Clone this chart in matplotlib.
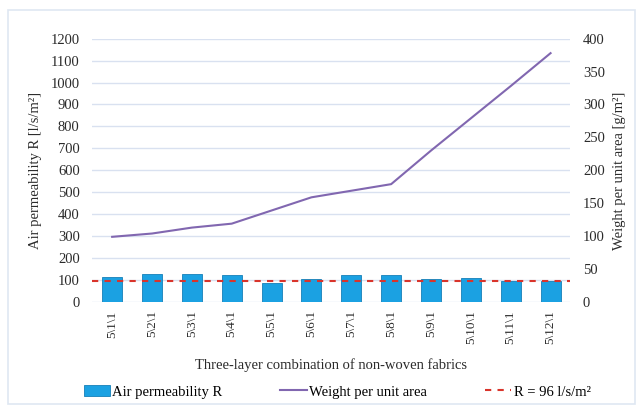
import numpy as np
import matplotlib
matplotlib.use('Agg')
import matplotlib.pyplot as plt
from matplotlib.patches import Rectangle

plt.rcParams['font.family'] = ['Liberation Serif', 'DejaVu Serif']

labels = ['5\\1\\1', '5\\2\\1', '5\\3\\1', '5\\4\\1', '5\\5\\1', '5\\6\\1',
          '5\\7\\1', '5\\8\\1', '5\\9\\1', '5\\10\\1', '5\\11\\1', '5\\12\\1']
air_perm = [114, 127, 127, 124, 88, 105, 124, 124, 105, 109, 97, 97]
weight = [99, 104, 113, 119, 139, 159, 169, 179, 230, 279, 328, 378]
r_limit = 96

fig = plt.figure(figsize=(6.36, 4.07), dpi=100)
fig.patches.append(Rectangle((0.013, 0.008), 0.985, 0.967, transform=fig.transFigure,
                             fill=False, edgecolor='#dfe7f2', linewidth=1.2))
ax = fig.add_axes([0.145, 0.258, 0.752, 0.647])
x = np.arange(len(labels))

ax.bar(x, air_perm, width=0.5, color='#1ba1e2', edgecolor='#1580b8', linewidth=0.6,
       label='Air permeability R', zorder=3)
ax.axhline(r_limit, color='#d9342b', linestyle=(0, (3, 3)), linewidth=1.5,
           label='R = 96 l/s/m²', zorder=4)
ax.set_ylim(0, 1200)
ax.set_yticks(np.arange(0, 1201, 100))
ax.set_xlim(-0.5, len(labels) - 0.5)
ax.set_xticks(x)
ax.set_xticklabels(labels, rotation=90)
ax.grid(axis='y', color='#d9e1f0', linewidth=1, zorder=0)
ax.set_axisbelow(True)
for s in ax.spines.values():
    s.set_visible(False)
ax.tick_params(axis='y', length=0, labelsize=10.5, colors='#2b2b2b', pad=9)
ax.tick_params(axis='x', length=0, labelsize=9.5, colors='#2b2b2b', pad=6)
ax.set_ylabel('Air permeability R [l/s/m²]', fontsize=10.5, labelpad=6, color='#2b2b2b')
ax.set_xlabel('Three-layer combination of non-woven fabrics', fontsize=10.5, labelpad=10,
              color='#2b2b2b')

ax2 = ax.twinx()
ax2.plot(x, weight, color='#8167b0', linewidth=1.5, label='Weight per unit area', zorder=5)
ax2.set_ylim(0, 400)
ax2.set_yticks(np.arange(0, 401, 50))
for s in ax2.spines.values():
    s.set_visible(False)
ax2.tick_params(length=0, labelsize=10.5, colors='#2b2b2b', pad=9)
ax2.set_ylabel('Weight per unit area [g/m²]', fontsize=10.5, labelpad=6, color='#2b2b2b')

h1, l1 = ax.get_legend_handles_labels()
h2, l2 = ax2.get_legend_handles_labels()
fig.legend([h1[1], h2[0], h1[0]], [l1[1], l2[0], l1[0]], loc='center',
           bbox_to_anchor=(0.53, 0.037), ncol=3, frameon=False, fontsize=10.5,
           columnspacing=4.0, handlelength=1.8, handletextpad=0.15)

fig.savefig('out.png', dpi=100)
